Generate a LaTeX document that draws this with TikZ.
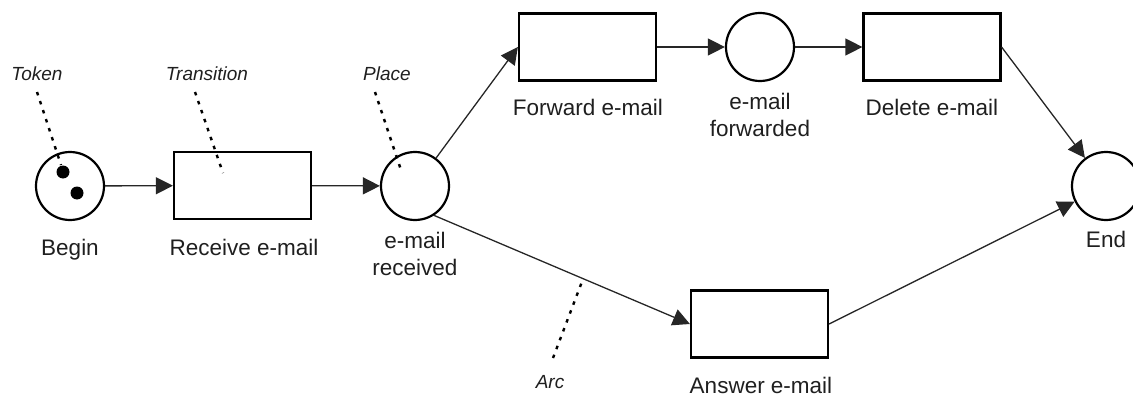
\documentclass[tikz,border=0pt]{standalone}
\usepackage{fontspec}
\setmainfont{Liberation Sans}
\usetikzlibrary{arrows.meta}
\begin{document}
\begin{tikzpicture}[x=1pt,y=-1pt,
  place/.style={circle,draw,line width=2.2pt,minimum size=68pt,inner sep=0pt},
  trans/.style={rectangle,draw,line width=2.2pt,minimum width=137pt,minimum height=67pt,inner sep=0pt},
  token/.style={circle,fill,minimum size=13pt,inner sep=0pt},
  lbl/.style={anchor=base,align=center,font=\fontsize{22.5}{26.5}\selectfont,text=black!88},
  note/.style={anchor=base,font=\fontsize{19}{22}\selectfont\itshape,text=black!88},
  arc/.style={line width=1.3pt,draw=black!85,-{Triangle[length=17pt,width=17pt]}},
  pointer/.style={line width=2.4pt,dash pattern=on 3.5pt off 6pt}
]
\useasboundingbox (0,0) rectangle (1133,396);

% places and transitions
\node[place] (begin) at (70,186) {};
\node[token] (tok1) at (63,172) {};
\node[token] (tok2) at (77,193) {};
\node[trans] (receive) at (242.5,185.5) {};
\node[place] (received) at (415,186) {};
\node[trans] (forward) at (587.5,47) {};
\node[place] (forwarded) at (760,47) {};
\node[trans] (delete) at (932,47) {};
\node[trans] (answer) at (759.5,324) {};
\node[place] (end) at (1106,186) {};

% captions (two-line captions are anchored at their last baseline)
\node[lbl] (lbegin) at (70,255) {Begin};
\node[lbl] (lreceive) at (244,255) {Receive e-mail};
\node[lbl] (lreceived) at (415,275) {e-mail\\received};
\node[lbl] (lforward) at (588,115) {Forward e-mail};
\node[lbl] (lforwarded) at (760,136) {e-mail\\forwarded};
\node[lbl] (ldelete) at (932,115) {Delete e-mail};
\node[lbl] (lanswer) at (761,393) {Answer e-mail};
\node[lbl] (lend) at (1106,247) {End};

% arcs
\draw[arc] (begin) -- (receive);
\draw[arc] (receive) -- (received);
\draw[arc] (received.53) -- (forward.west);
\draw[arc] (forward) -- (forwarded);
\draw[arc] (forwarded) -- (delete);
\draw[arc] (delete.east) -- (end);
\draw[arc] (received.-57) -- (answer.west);
\draw[arc] (answer.east) -- (end);

% explanatory notes
\node[note] (ntoken) at (37,81) {Token};
\node[note] (ntrans) at (207,81) {Transition};
\node[note] (nplace) at (387,81) {Place};
\node[note] (narc) at (550,388) {Arc};
\coordinate (ptoken) at (61,165);
\coordinate (ptrans) at (223,173);
\coordinate (pplace) at (402,173);
\coordinate (parc) at (583,279);
\draw[pointer] (37,92) -- (ptoken);
\draw[pointer] (195,92) -- (ptrans);
\draw[pointer] (375,92) -- (pplace);
\draw[pointer] (553,358) -- (parc);
\end{tikzpicture}
\end{document}
